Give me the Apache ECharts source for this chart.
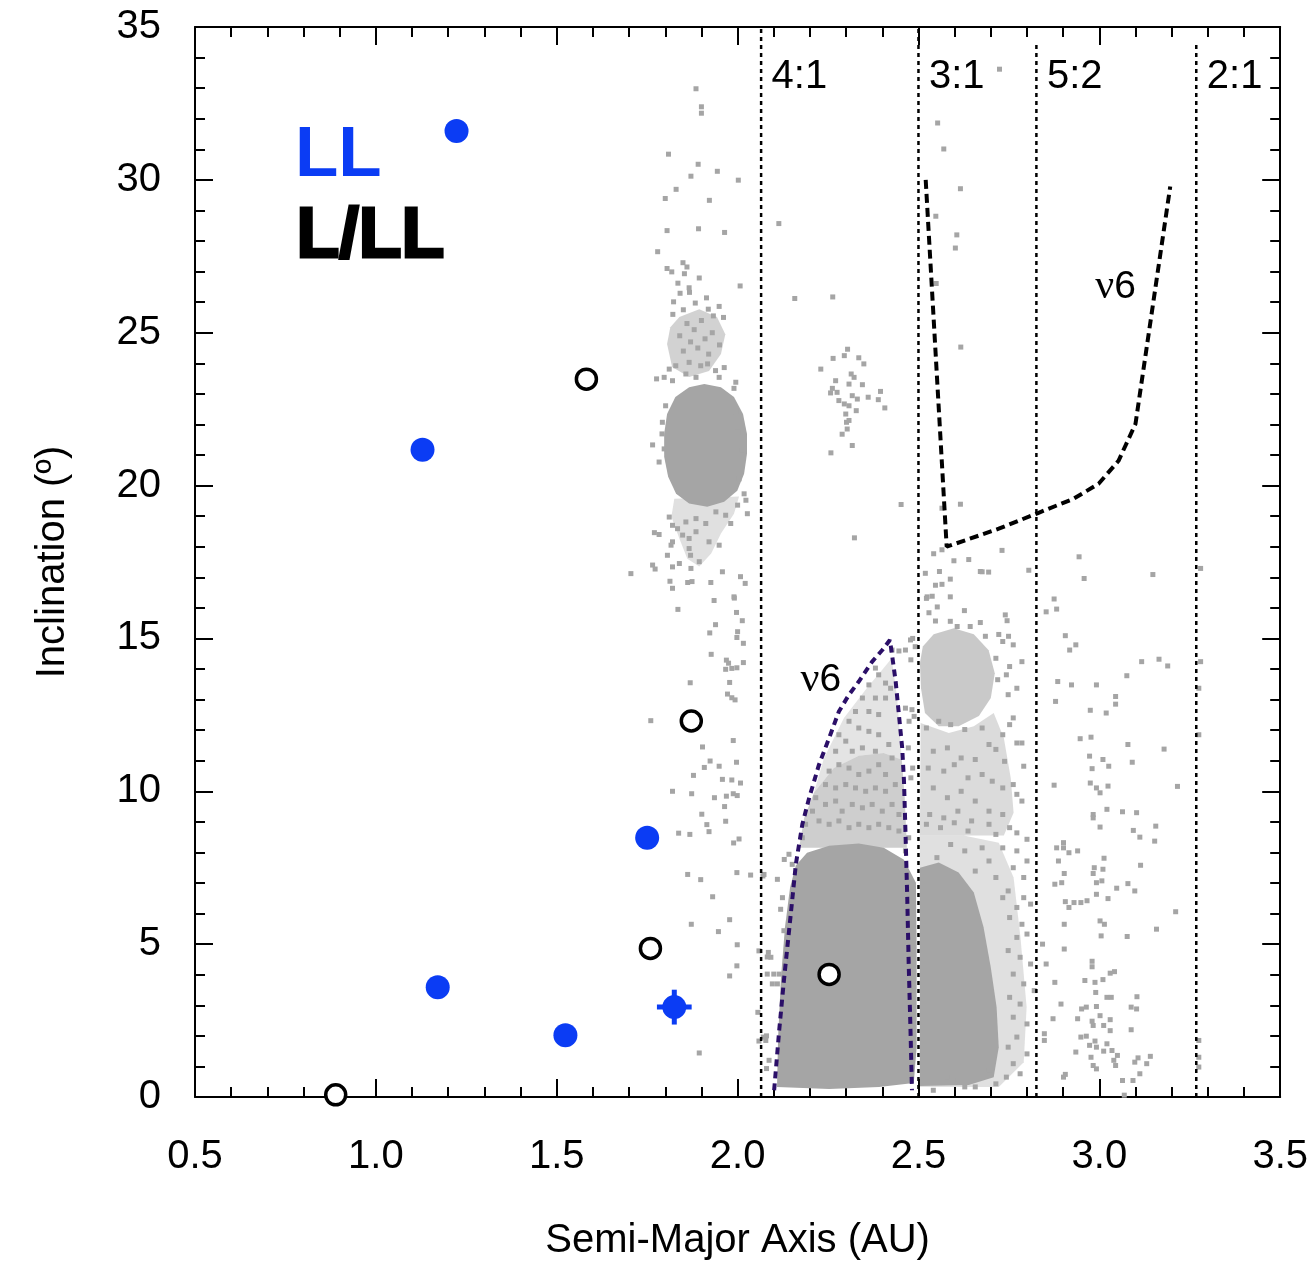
<!DOCTYPE html>
<html>
<head>
<meta charset="utf-8">
<script src="https://cdn.jsdelivr.net/npm/echarts@6/dist/echarts.min.js"></script>
<style>
  html, body { margin: 0; padding: 0; background: #fff; }
  #main { width: 1311px; height: 1266px; }
</style>
</head>
<body>
<div id="main"></div>
<script>
// ---- meteorite orbits (a in AU, i in degrees) ----
const llPoints = [[1.223, 31.6], [1.129, 21.17], [1.171, 3.59], [1.524, 2.02], [1.750, 8.48]];
const llWithError = [[1.825, 2.94, 0.048, 0.57]]; // a, i, ±a, ±i
const lllPoints = [[1.582, 23.48], [1.872, 12.30], [1.759, 4.86], [2.253, 4.01], [0.889, 0.07]];

// ---- Kirkwood gaps ----
const resonanceNames = ['4:1', '3:1', '5:2', '2:1'];
const resonanceA = [2.065, 2.50, 2.826, 3.268];
const resonanceTop = [35, 35, 34.5, 34.5];

// ---- nu6 secular resonance ----
const nu6Inner = [[2.101, 0.22], [2.115, 2.18], [2.128, 3.81], [2.147, 5.98], [2.161, 7.61], [2.179, 8.92],
  [2.198, 9.79], [2.225, 10.87], [2.253, 11.74], [2.280, 12.61], [2.308, 13.16], [2.335, 13.59],
  [2.372, 14.24], [2.400, 14.62], [2.421, 14.95], [2.427, 14.46], [2.437, 13.59], [2.446, 12.50],
  [2.455, 11.42], [2.460, 10.33], [2.464, 8.70], [2.469, 6.52], [2.473, 4.35], [2.478, 2.18], [2.482, 0.22]];
const nu6Outer = [[2.520, 30.0], [2.578, 18.0], [2.722, 18.59], [2.832, 19.11], [2.929, 19.57],
  [2.998, 20.06], [3.053, 20.81], [3.100, 22.02], [3.196, 29.78]];
const nu6LabelAt = [[3.045, 26.49], [2.230, 13.63]];

// ---- main-belt asteroids: densely populated regions (outlines) ----
const beltCore = [[2.109, 0.33], [2.112, 1.96], [2.120, 3.91], [2.131, 5.55], [2.145, 6.85], [2.161, 7.57],
  [2.192, 7.99], [2.253, 8.22], [2.335, 8.29], [2.404, 8.15], [2.460, 7.76], [2.493, 7.01], [2.495, 4.89],
  [2.495, 1.63], [2.487, 0.46], [2.391, 0.33], [2.253, 0.26]];
const beltInnerMid = [[2.170, 8.15], [2.184, 9.13], [2.211, 9.95], [2.266, 10.76], [2.335, 11.16],
  [2.404, 11.25], [2.454, 11.03], [2.462, 9.79], [2.468, 8.15]];
const beltInnerHigh = [[2.211, 9.95], [2.239, 11.09], [2.294, 12.40], [2.357, 13.37], [2.404, 14.03],
  [2.426, 14.35], [2.441, 13.05], [2.454, 11.03], [2.404, 11.25], [2.335, 11.16], [2.266, 10.76]];
const hungariaCore = [[1.908, 23.32], [1.954, 23.22], [1.990, 22.90], [2.015, 22.34], [2.026, 21.69],
  [2.026, 21.04], [2.018, 20.39], [1.999, 19.83], [1.963, 19.47], [1.916, 19.31], [1.866, 19.41],
  [1.830, 19.73], [1.808, 20.29], [1.797, 20.94], [1.797, 21.69], [1.805, 22.34], [1.828, 22.90], [1.866, 23.22]];
const hungariaUpper = [[1.839, 25.51], [1.894, 25.77], [1.943, 25.51], [1.966, 24.95], [1.954, 24.30],
  [1.921, 23.75], [1.866, 23.55], [1.819, 23.88], [1.805, 24.63], [1.814, 25.18]];
const hungariaTail = [[1.825, 19.57], [2.004, 19.64], [1.990, 19.08], [1.954, 18.43], [1.927, 17.78],
  [1.894, 17.35], [1.861, 17.61], [1.839, 18.27], [1.817, 18.98]];
const middleCore = [[2.504, 7.50], [2.556, 7.67], [2.611, 7.34], [2.653, 6.69], [2.680, 5.55], [2.700, 4.24],
  [2.716, 2.94], [2.722, 1.63], [2.708, 0.65], [2.639, 0.39], [2.504, 0.36]];
const middleFringe = [[2.504, 8.55], [2.625, 8.55], [2.722, 8.32], [2.763, 7.18], [2.782, 5.22], [2.799, 2.94],
  [2.791, 1.14], [2.722, 0.33], [2.504, 0.33]];
const middleCluster = [[2.512, 14.74], [2.542, 15.14], [2.598, 15.33], [2.653, 15.14], [2.694, 14.61],
  [2.711, 13.86], [2.700, 13.05], [2.667, 12.46], [2.611, 12.13], [2.556, 12.13], [2.518, 12.56],
  [2.507, 13.37], [2.504, 14.19]];
const middleBand = [[2.506, 12.23], [2.584, 11.91], [2.653, 12.13], [2.708, 12.56], [2.736, 11.74],
  [2.755, 10.44], [2.763, 9.30], [2.736, 8.55], [2.504, 8.55]];

// ---- main-belt asteroids: individual objects outside the dense regions ----
const asteroidPts = [
  // high inclination, a < 2.1
  [1.885,32.98],[1.900,32.39],[1.900,32.18],[1.809,30.84],[1.891,30.51],[1.944,30.28],[1.871,30.12],[2.002,29.99],
  [1.830,29.69],[1.800,29.39],[1.922,29.33],[2.114,28.57],[1.805,28.34],[1.892,28.40],[1.964,28.28],[1.779,27.65],
  [1.849,27.29],[1.860,27.15],[1.805,27.10],[2.158,26.12],[2.263,26.17],[2.007,26.53],
  [2.724,33.62],[2.553,31.86],[2.570,31.01],[2.616,29.71],[2.548,28.81],[2.606,28.20],[2.602,27.77],[2.549,26.61],[2.617,24.53],
  // Hungaria group surroundings
  [1.818,26.99],[1.853,26.93],[1.894,26.79],[1.835,26.62],[1.866,26.47],[1.841,26.29],[1.867,26.32],[1.914,26.14],
  [1.823,26.01],[1.883,25.97],[1.949,25.86],[1.919,25.77],[1.850,25.75],[1.821,25.60],[1.961,25.50],[1.933,25.55],
  [1.86,25.3],[1.88,25.1],[1.90,25.4],[1.84,24.9],[1.87,24.7],[1.91,24.8],[1.93,25.0],[1.89,24.5],[1.85,24.4],[1.92,24.3],[1.95,24.6],
  [1.776,23.49],[1.797,23.54],[1.820,23.43],[1.995,23.38],[1.990,23.18],[1.811,23.81],[1.829,23.92],[1.866,24.03],
  [1.898,23.92],[1.939,23.76],[1.963,23.86],[1.917,23.98],[1.949,23.54],[1.857,23.65],[1.885,23.54],
  [1.765,21.33],[1.783,20.77],[1.791,21.69],[1.792,22.07],[1.801,22.61],[1.797,21.20],
  [2.013,21.15],[2.004,20.22],[2.000,21.75],[1.995,22.40],[2.018,19.73],[2.023,19.52],[2.027,19.08],[2.000,19.36],
  [1.811,18.97],[1.820,18.70],[1.834,18.59],[1.857,18.81],[1.885,18.92],[1.912,18.76],[1.940,19.14],[1.967,19.03],
  [1.981,18.76],[1.770,18.46],[1.783,18.40],[1.848,18.38],[1.866,18.27],[1.885,18.49],[1.921,18.16],[1.949,18.05],
  [1.820,18.16],[1.816,18.05],[1.866,17.94],[1.870,17.72],[1.894,17.51],[1.806,17.72],[1.765,17.40],[1.772,17.27],
  [1.820,17.34],[1.839,17.45],[1.871,17.29],[1.705,17.12],[1.958,17.18],[2.008,17.02],[2.021,16.80],[1.813,16.87],
  [1.820,16.64],[1.862,16.83],[1.874,16.86],[1.926,16.83],[1.990,16.36],
  // below the Hungarias, inside the 4:1 gap
  [1.935,16.24],[1.991,16.32],[1.835,15.95],[1.997,15.85],[2.013,15.58],[1.939,15.45],[1.923,15.18],[2.000,15.22],
  [1.998,15.03],[2.016,14.84],[1.927,14.48],[1.969,14.29],[1.975,14.19],[1.967,13.99],[1.984,14.02],[1.998,14.04],
  [2.016,14.21],[1.869,13.55],[1.978,13.56],[1.972,13.18],[1.984,13.06],[1.993,12.99],[1.760,12.31],[1.988,11.66],
  [1.903,11.45],[1.924,10.99],[1.997,10.95],[1.908,10.78],[1.949,10.82],[1.878,10.52],[1.958,10.39],[1.984,10.37],
  [2.008,10.27],[1.820,10.00],[1.873,9.92],[1.936,9.79],[1.969,9.84],[1.988,9.92],[1.999,9.86],[1.964,9.50],
  [1.901,9.25],[1.967,9.02],[1.915,8.91],[1.921,8.68],[1.837,8.63],[1.868,8.59],[1.989,8.31],[2.004,8.44],
  [1.862,7.28],[1.898,7.11],[1.998,7.34],[2.036,7.26],[2.070,7.23],[1.931,6.55],[1.872,5.65],[1.947,5.41],
  [1.978,5.80],[1.999,4.98],[1.998,4.29],[1.978,3.96],[2.059,4.78],[2.056,2.77],[2.059,1.83],[1.894,1.44],
  [2.082,4.58],[2.080,2.00],[2.082,4.02],[2.080,0.93],
  // inner belt edge
  [2.073,7.28],[2.092,4.57],[2.096,3.70],[2.078,1.85],[2.087,1.20],[2.142,7.94],[2.151,7.61],[2.128,5.44],[2.115,4.02],
  [2.129,7.77],[2.110,7.12],[2.085,4.73],[2.071,1.96],[2.100,4.02],[2.110,3.70],[2.119,6.14],[2.124,6.52],
  // inner belt, higher inclinations
  [2.427,14.62],[2.446,14.59],[2.464,14.62],[2.478,14.95],[2.491,14.73],[2.381,14.03],[2.390,13.81],[2.363,13.48],
  [2.409,13.54],[2.423,13.37],[2.345,13.05],[2.381,13.05],[2.409,13.05],[2.482,12.67],[2.464,12.72],[2.326,12.61],
  [2.363,12.61],[2.390,12.51],[2.308,12.29],[2.280,11.85],[2.335,12.07],[2.363,11.96],[2.390,11.85],[2.299,11.64],
  [2.271,11.31],[2.317,11.31],[2.345,11.42],[2.381,11.31],[2.418,11.53],[2.427,11.09],[2.253,10.66],[2.280,10.87],
  [2.308,10.76],[2.335,10.55],[2.363,10.66],[2.390,10.87],[2.409,10.55],[2.243,10.22],[2.271,10.11],[2.299,10.22],
  [2.326,10.11],[2.354,10.00],[2.381,10.11],[2.409,10.00],[2.436,10.22],[2.216,9.79],[2.207,9.35],[2.243,9.57],
  [2.271,9.68],[2.289,9.35],[2.317,9.57],[2.345,9.46],[2.372,9.57],[2.400,9.35],[2.427,9.57],[2.446,9.24],
  [2.188,8.92],[2.225,9.03],[2.253,8.92],[2.280,9.03],[2.308,8.81],[2.335,8.92],[2.363,8.81],[2.390,8.92],
  [2.418,8.81],[2.446,8.70],[2.179,8.48],[2.473,8.48],[2.464,8.05],
  [2.484,15.00],[2.479,14.30],[2.474,12.29],[2.488,12.45],[2.472,11.42],[2.479,10.44],[2.484,10.76],
  // inner belt, Phocaea-like clump
  [2.304,24.46],[2.295,24.25],[2.264,24.16],[2.335,24.18],[2.230,23.81],[2.349,23.98],[2.314,23.65],[2.322,23.54],
  [2.308,23.32],[2.345,23.30],[2.271,23.43],[2.395,23.08],[2.262,23.18],[2.275,23.05],[2.257,23.03],[2.317,22.94],
  [2.331,22.83],[2.361,22.89],[2.389,22.81],[2.280,22.78],[2.295,22.67],[2.407,22.54],[2.308,22.61],[2.328,22.45],
  [2.299,22.34],[2.308,22.13],[2.301,22.07],[2.303,21.85],[2.289,21.68],[2.317,21.31],[2.258,21.07],[2.452,19.38],[2.323,18.29],
  // middle belt, high inclination
  [2.565,19.26],[2.616,19.39],[2.542,17.77],[2.565,17.90],[2.598,17.54],[2.639,17.58],[2.731,17.88],[2.519,17.13],
  [2.558,17.19],[2.671,17.19],[2.694,17.17],[2.805,17.23],[2.547,16.74],[2.565,16.77],[2.588,16.94],[2.524,16.36],
  [2.538,16.38],[2.588,16.36],[2.552,16.03],[2.529,15.84],[2.627,15.91],[2.740,15.77],[2.547,15.57],[2.588,15.56],
  [2.607,15.39],[2.643,15.39],[2.671,15.52],[2.745,15.58],[2.722,15.13],[2.749,15.07],[2.685,15.07],[2.853,15.87],
  [2.676,17.18],[2.522,16.31],[2.762,14.79],[2.733,14.90],[2.714,14.35],[2.786,14.24],[2.752,14.08],[2.719,13.65],
  [2.743,13.81],[2.772,13.37],[2.748,13.16],[2.752,12.18],[2.791,10.82],
  // middle belt, moderate inclination
  [2.522,12.07],[2.556,12.29],[2.589,12.18],[2.628,12.02],[2.676,12.07],[2.695,11.53],[2.733,11.85],[2.762,12.40],
  [2.772,11.58],[2.786,11.58],[2.541,11.31],[2.580,11.42],[2.618,11.09],[2.657,11.04],[2.714,11.37],[2.738,10.98],
  [2.527,10.76],[2.570,10.66],[2.599,10.87],[2.637,10.44],[2.676,10.55],[2.704,10.33],[2.733,10.11],[2.762,10.22],
  [2.786,9.68],[2.772,9.90],[2.541,10.11],[2.580,9.79],[2.618,10.00],[2.657,9.68],[2.695,9.35],[2.733,9.24],
  [2.531,9.24],[2.570,9.13],[2.609,9.35],[2.647,9.03],[2.695,8.92],[2.752,8.81],[2.772,8.64],[2.800,8.43],
  [2.522,8.92],[2.561,8.81],[2.599,8.97],[2.637,8.70],[2.714,8.59],[2.733,8.15],[2.676,8.15],[2.628,8.05],
  [2.589,8.26],[2.551,7.83],[2.695,7.72],[2.657,7.39],[2.714,7.18],[2.733,6.52],
  // middle belt, low inclination fringe
  [2.772,8.05],[2.800,7.72],[2.762,7.50],[2.791,7.18],[2.748,6.74],[2.791,6.52],[2.772,6.20],[2.810,6.31],
  [2.752,5.87],[2.786,5.65],[2.772,5.22],[2.800,5.33],[2.748,4.79],[2.781,4.57],[2.810,4.35],[2.762,4.02],
  [2.791,3.70],[2.820,3.48],[2.752,3.26],[2.781,3.04],[2.762,2.61],[2.800,2.39],[2.772,1.96],[2.748,1.63],
  [2.800,1.41],[2.762,1.09],[2.743,0.65],[2.781,0.76],[2.714,0.43],[2.695,0.87],[2.657,0.33],[2.628,0.33],
  [2.609,0.54],[2.580,0.65],[2.541,0.22],
  // outer belt
  [2.944,17.67],[2.958,16.96],[3.148,17.09],[2.875,16.29],[2.882,15.96],[2.906,15.09],[2.935,14.79],[2.918,14.62],
  [3.117,14.24],[3.165,14.32],[3.189,14.10],[3.076,13.78],[2.885,13.59],[2.923,13.48],[2.992,13.48],[3.045,13.10],
  [3.045,12.85],[2.879,12.94],[2.975,12.65],[3.019,12.56],[2.947,11.72],[2.977,11.77],[3.079,11.53],[3.179,11.38],
  [2.973,11.15],[3.010,11.04],[2.980,10.74],[3.026,10.82],[3.091,10.95],[2.875,10.20],[2.975,10.27],[2.992,10.11],
  [3.002,9.95],[3.024,10.17],[3.216,10.16],[3.021,9.41],[2.983,9.24],[2.983,9.13],[3.064,9.33],[3.103,9.30],
  [3.002,8.83],[3.156,8.86],[3.094,8.72],[3.112,8.50],[3.153,8.37],[2.901,8.32],
  [3.280,17.29],[3.280,14.24],[3.275,13.37],[3.275,11.85],
  [2.901,8.15],[2.882,8.15],[2.916,7.99],[2.940,8.05],[3.013,7.81],[2.887,7.72],[2.986,7.50],[3.010,7.45],
  [3.114,7.58],[2.903,7.31],[2.983,7.31],[2.877,6.96],[2.896,7.01],[2.992,7.01],[3.007,7.07],[3.048,6.83],
  [3.079,6.98],[3.098,6.74],[2.992,6.63],[3.024,6.49],[2.966,6.42],[2.906,6.39],[2.930,6.36],[2.949,6.36],
  [2.916,6.20],[3.211,6.06],[3.002,5.76],[3.014,5.65],[2.903,5.65],[3.158,5.49],[3.077,5.25],[3.005,5.27],
  [2.843,5.00],[2.903,4.84],[2.980,4.44],[2.980,4.26],[3.030,4.05],[3.042,4.10],[2.960,3.81],[2.988,3.75],
  [3.010,3.84],[2.877,3.75],[2.853,4.35],[2.990,3.42],[3.021,3.26],[3.033,3.26],[3.104,3.28],[2.894,3.04],
  [2.951,2.88],[2.964,2.94],[2.992,2.96],[3.088,2.94],[3.103,2.88],[2.872,2.56],[2.940,2.56],[2.980,2.48],
  [3.002,2.66],[3.030,2.53],[2.983,2.34],[3.012,2.34],[3.030,2.17],[3.088,2.20],[2.848,2.07],[2.949,1.96],
  [2.964,1.99],[2.988,1.83],[2.992,1.63],[2.973,1.69],[3.021,1.74],[3.035,1.52],[3.050,1.36],[2.977,1.30],
  [3.012,1.50],[2.935,1.47],[2.983,1.03],[2.992,0.92],[3.040,1.20],[3.045,1.03],[3.098,1.14],[3.107,1.28],
  [3.131,1.09],[3.141,1.33],[3.112,0.76],[3.064,0.54],[3.093,0.54],[2.906,0.74],[2.901,0.65],[3.069,0.06],
  [2.848,1.85],[3.275,1.85],[3.275,1.30],[3.275,0.98]
];

// ---- styling ----
const FONT = '"Liberation Sans", Arial, Helvetica, sans-serif';
const CLOUD = '#a5a5a5';
const BLUE = '#0b3cf4';
const NU6_INNER = '#2b0f68';

const chart = echarts.init(document.getElementById('main'), null, { renderer: 'canvas' });

function regionSeries(pts, alpha) {
  return {
    type: 'custom', coordinateSystem: 'cartesian2d', silent: true, z: 1,
    data: [pts[0]],
    renderItem: function (params, api) {
      return {
        type: 'polygon',
        shape: { points: pts.map(function (p) { return api.coord(p); }) },
        style: { fill: CLOUD, opacity: alpha }
      };
    }
  };
}

const axisLineStyle = { color: '#000', width: 2 };
function xAxisDef(pos, labels) {
  return {
    type: 'value', position: pos, min: 0.5, max: 3.5, interval: 0.5,
    axisLine: { show: true, onZero: false, lineStyle: axisLineStyle },
    axisTick: { show: true, inside: true, length: 18, lineStyle: axisLineStyle },
    minorTick: { show: true, splitNumber: 5, length: 10, lineStyle: axisLineStyle },
    splitLine: { show: false },
    axisLabel: { show: labels, margin: 40, fontSize: 40, color: '#000', fontFamily: FONT,
      formatter: function (v) { return v.toFixed(1); } },
    name: labels ? 'Semi-Major Axis (AU)' : '', nameLocation: 'middle', nameGap: 124,
    nameTextStyle: { fontSize: 40, color: '#000', fontFamily: FONT }
  };
}
function yAxisDef(pos, labels) {
  return {
    type: 'value', position: pos, min: 0, max: 35, interval: 5,
    axisLine: { show: true, onZero: false, lineStyle: axisLineStyle },
    axisTick: { show: true, inside: true, length: 18, lineStyle: axisLineStyle },
    minorTick: { show: true, splitNumber: 5, length: 10, lineStyle: axisLineStyle },
    splitLine: { show: false },
    axisLabel: { show: labels, margin: 34, fontSize: 40, color: '#000', fontFamily: FONT },
    name: labels ? 'Inclination (º)' : '', nameLocation: 'middle', nameGap: 122,
    nameTextStyle: { fontSize: 40, color: '#000', fontFamily: FONT }
  };
}

const series = [
  regionSeries(middleFringe, 0.35),
  regionSeries(middleBand, 0.4),
  regionSeries(middleCluster, 0.6),
  regionSeries(middleCore, 1),
  regionSeries(beltInnerHigh, 0.3),
  regionSeries(beltInnerMid, 0.55),
  regionSeries(beltCore, 1),
  regionSeries(hungariaUpper, 0.5),
  regionSeries(hungariaTail, 0.35),
  regionSeries(hungariaCore, 1),
  {
    name: 'asteroids', type: 'scatter', data: asteroidPts, symbol: 'rect', symbolSize: 5,
    itemStyle: { color: CLOUD, opacity: 1 }, silent: true, z: 2
  }
];

resonanceA.forEach(function (a, k) {
  series.push({
    type: 'line', data: [[a, 0], [a, resonanceTop[k]]], symbol: 'none', silent: true, z: 3,
    lineStyle: { color: '#000', width: 2.5, type: [4, 4], opacity: 1 }
  });
});

series.push({
  type: 'scatter', silent: true, z: 6, symbolSize: 1, itemStyle: { color: 'rgba(0,0,0,0)', opacity: 1 },
  data: resonanceA.map(function (a, k) { return { value: [a, 33.35], name: resonanceNames[k] }; }),
  label: { show: true, position: 'right', distance: 10, formatter: '{b}', fontSize: 40, color: '#000', fontFamily: FONT }
});

series.push({
  type: 'line', data: nu6Inner, symbol: 'none', silent: true, z: 4,
  lineStyle: { color: NU6_INNER, width: 4, type: [7, 5], opacity: 1 }
});
series.push({
  type: 'line', data: nu6Outer, symbol: 'none', silent: true, z: 4,
  lineStyle: { color: '#000', width: 4, type: [9, 5], opacity: 1 }
});
series.push({
  type: 'scatter', silent: true, z: 6, symbolSize: 1, itemStyle: { color: 'rgba(0,0,0,0)', opacity: 1 },
  data: nu6LabelAt,
  label: {
    show: true, position: 'inside', formatter: '{n|ν}{d|6}',
    rich: {
      n: { fontFamily: '"Liberation Serif", "Times New Roman", serif', fontSize: 42, color: '#000' },
      d: { fontFamily: FONT, fontSize: 39, color: '#000' }
    }
  }
});

series.push({
  type: 'custom', silent: true, z: 7, data: llWithError, encode: { x: 0, y: 1 },
  renderItem: function (params, api) {
    const x = api.value(0), y = api.value(1), dx = api.value(2), dy = api.value(3);
    const l = api.coord([x - dx, y]), r = api.coord([x + dx, y]);
    const t = api.coord([x, y + dy]), b = api.coord([x, y - dy]);
    return {
      type: 'group', children: [
        { type: 'line', shape: { x1: l[0], y1: l[1], x2: r[0], y2: r[1] }, style: { stroke: BLUE, lineWidth: 5 } },
        { type: 'line', shape: { x1: t[0], y1: t[1], x2: b[0], y2: b[1] }, style: { stroke: BLUE, lineWidth: 5 } }
      ]
    };
  }
});
series.push({
  name: 'LL', type: 'scatter', data: llPoints.concat(llWithError.map(function (p) { return [p[0], p[1]]; })),
  symbol: 'circle', symbolSize: 24, itemStyle: { color: BLUE, opacity: 1 }, z: 8, silent: true
});
series.push({
  name: 'L/LL', type: 'scatter', data: lllPoints, symbol: 'circle', symbolSize: 20, z: 8, silent: true,
  itemStyle: { color: '#fff', borderColor: '#000', borderWidth: 3.5, opacity: 1 }
});

chart.setOption({
  animation: false,
  backgroundColor: '#fff',
  grid: { left: 195, right: 29, top: 27, bottom: 166, containLabel: false },
  xAxis: [xAxisDef('bottom', true), xAxisDef('top', false)],
  yAxis: [yAxisDef('left', true), yAxisDef('right', false)],
  series: series,
  graphic: [
    { type: 'text', z: 10, left: 295, top: 121,
      style: { text: 'LL', font: 'bold 71px ' + FONT, fill: BLUE } },
    { type: 'text', z: 10, left: 295, top: 201,
      style: { text: 'L/LL', font: 'bold 70px ' + FONT, fill: '#000', stroke: '#000', lineWidth: 3 } }
  ]
});
</script>
</body>
</html>
